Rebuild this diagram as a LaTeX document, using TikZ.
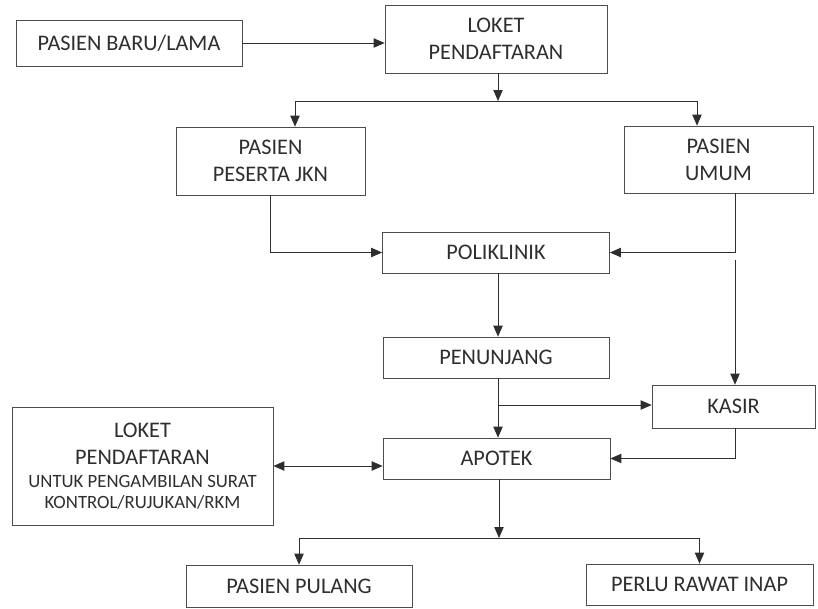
\documentclass[tikz,border=0pt]{standalone}
\usepackage{fontspec}
\setmainfont{Carlito}
\usetikzlibrary{arrows.meta}
\definecolor{ink}{HTML}{2E2E2E}
\tikzset{
  box/.style={draw=ink!85, line width=0.6pt, text=ink, inner sep=0pt, align=center, font=\fontsize{19}{23}\selectfont},
  arr/.style={draw=ink, line width=0.7pt, -{Triangle[length=0.33cm,width=0.28cm]}},
  ln/.style={draw=ink, line width=0.7pt}
}

\begin{document}
\begin{tikzpicture}[x=0.03cm,y=-0.03cm]
\useasboundingbox (0,0) rectangle (818,608);
\node[box, minimum width=6.78cm, minimum height=1.38cm] (baru) at (129,43) {PASIEN BARU/LAMA};
\node[box, minimum width=6.66cm, minimum height=2.04cm] (loket) at (496,39) {LOKET\\PENDAFTARAN};
\node[box, minimum width=5.67cm, minimum height=2.04cm] (jkn) at (270.5,161) {PASIEN\\PESERTA JKN};
\node[box, minimum width=5.67cm, minimum height=2.01cm] (umum) at (718.5,159.5) {PASIEN\\UMUM};
\node[box, minimum width=6.81cm, minimum height=1.23cm] (poli) at (496,252.5) {POLIKLINIK};
\node[box, minimum width=6.78cm, minimum height=1.23cm] (penunjang) at (496,357.5) {PENUNJANG};
\node[box, minimum width=4.89cm, minimum height=1.29cm] (kasir) at (733.5,406.5) {KASIR};
\node[box, minimum width=6.81cm, minimum height=1.23cm] (apotek) at (496.5,458.5) {APOTEK};
\node[box, minimum width=7.83cm, minimum height=3.54cm] (loketb) at (142.5,466)
  {LOKET\\PENDAFTARAN\\[-3pt]\fontsize{16}{18}\selectfont UNTUK PENGAMBILAN SURAT\\[-5pt]\fontsize{16}{18}\selectfont KONTROL/RUJUKAN/RKM};
\node[box, minimum width=6.78cm, minimum height=1.26cm] (pulang) at (299,586) {PASIEN PULANG};
\node[box, minimum width=6.81cm, minimum height=1.23cm] (inap) at (699.5,584.5) {PERLU RAWAT INAP};

% titik cabang
\coordinate (c1) at (498,101);
\coordinate (c1l) at (295,101);
\coordinate (c1r) at (697,101);
\coordinate (u1) at (735,253);
\coordinate (u2) at (735,260);
\coordinate (p1) at (498,405);
\coordinate (a1) at (499,538);

\draw[arr] (baru.east) -- (baru.east -| loket.west);
\draw[arr] (loket.south -| c1) -- (c1);
\draw[ln] (c1l) -- (c1r);
\draw[arr] (c1l) -- (c1l |- jkn.north);
\draw[arr] (c1r) -- (c1r |- umum.north);
\draw[arr] (jkn.south) |- (poli.west);
\draw[arr] (umum.south -| u1) |- (poli.east);
\draw[arr] (u2) -- (u2 |- kasir.north);
\draw[arr] (poli.south -| c1) -- (penunjang.north -| c1);
\draw[arr] (penunjang.south -| c1) -- (apotek.north -| c1);
\draw[arr] (p1) -- (p1 -| kasir.west);
\draw[arr] (kasir.south -| u1) |- (apotek.east);
\draw[arr, {Triangle[length=0.33cm,width=0.28cm]}-{Triangle[length=0.33cm,width=0.28cm]}] (loketb.east) -- (loketb.east -| apotek.west);
\draw[arr] (apotek.south -| a1) -- (a1);
\draw[arr] (a1) -| (pulang.north);
\draw[arr] (a1) -| (inap.north);
\end{tikzpicture}
\end{document}
